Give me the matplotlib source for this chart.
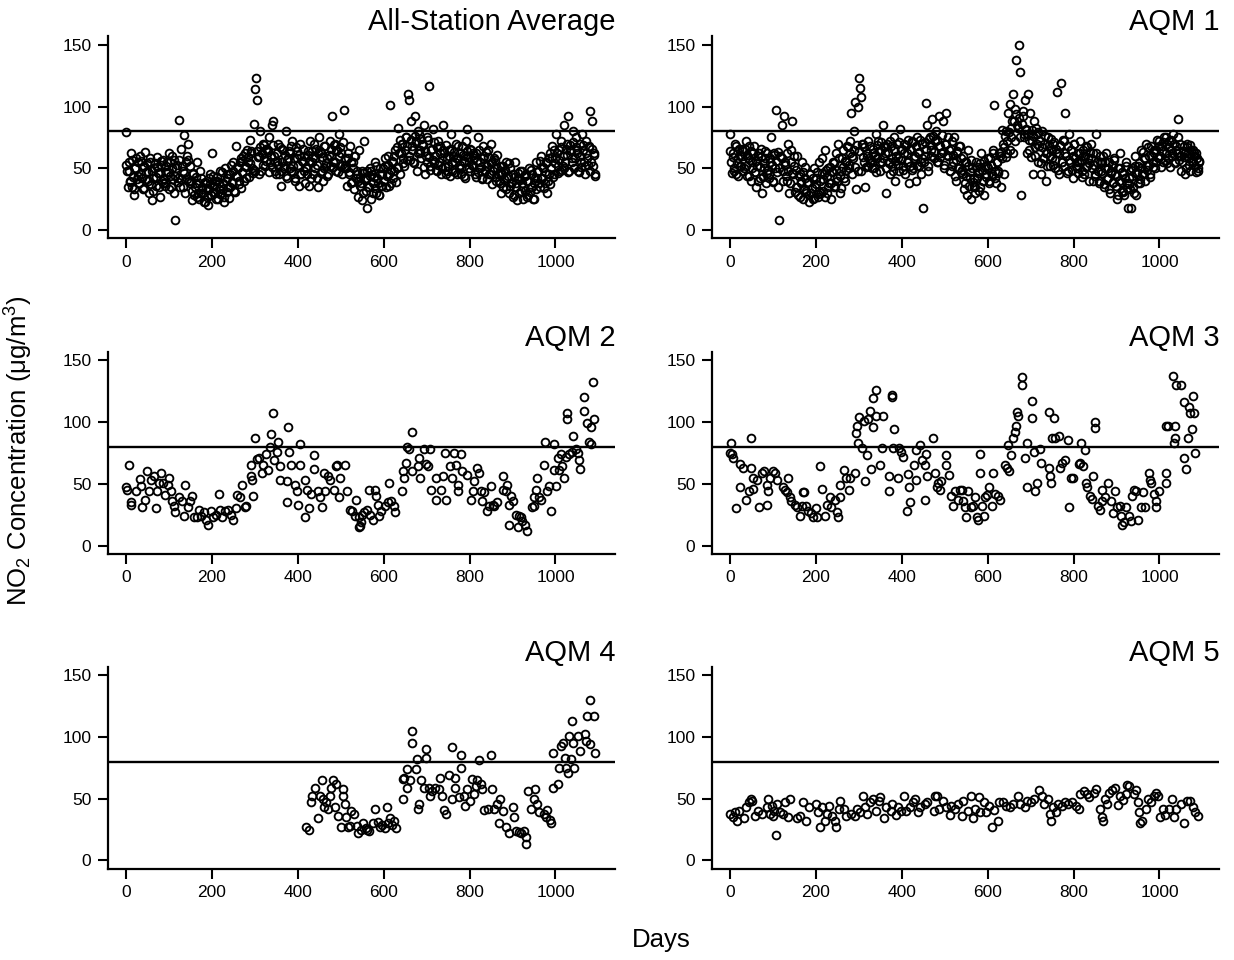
"""Six-panel NO2 daily concentration scatter (all-station average + AQM 1-5)."""

import numpy as np
import matplotlib

matplotlib.use("Agg")
import matplotlib.pyplot as plt

plt.rcParams["font.family"] = ["Liberation Sans", "DejaVu Sans"]
plt.rcParams["mathtext.fontset"] = "custom"
plt.rcParams["mathtext.rm"] = "Liberation Sans"
plt.rcParams["mathtext.it"] = "Liberation Sans:italic"

LIMIT = 80  # threshold line, µg/m3

# ---- all-station average: days 0,3,6,... and days 1,4,7,... -----------------
AVG_DAYS_A = np.arange(0, 1095, 3)
AVG_NO2_A = [
    79, 48, 55, 40, 62, 35, 28, 50, 58, 44,
    38, 60, 45, 33, 52, 63, 41, 47, 30, 55,
    24, 42, 50, 36, 59, 46, 27, 53, 40, 57,
    38, 47, 55, 62, 44, 35, 60, 30, 8, 50,
    42, 89, 35, 66, 48, 77, 30, 60, 70, 40,
    52, 32, 45, 28, 38, 55, 30, 25, 42, 35,
    30, 23, 38, 27, 34, 45, 28, 62, 36, 30,
    25, 40, 33, 48, 30, 38, 27, 50, 42, 35,
    26, 45, 38, 55, 32, 68, 44, 50, 40, 58,
    47, 60, 52, 42, 65, 55, 73, 62, 50, 86,
    114, 123, 105, 60, 80, 48, 70, 58, 52, 66,
    63, 75, 55, 85, 88, 60, 48, 56, 70, 45,
    36, 55, 65, 50, 80, 42, 58, 62, 48, 72,
    52, 40, 67, 58, 36, 70, 45, 55, 60, 38,
    50, 64, 36, 72, 55, 45, 70, 58, 42, 35,
    75, 62, 48, 40, 68, 52, 58, 45, 72, 60,
    92, 55, 70, 48, 65, 78, 52, 62, 45, 97,
    58, 50, 62, 45, 68, 38, 55, 33, 60, 48,
    40, 65, 36, 48, 30, 72, 42, 18, 35, 50,
    25, 45, 38, 55, 30, 42, 28, 50, 36, 45,
    40, 52, 35, 60, 45, 101, 38, 55, 48, 65,
    50, 83, 62, 45, 70, 58, 52, 75, 68, 110,
    105, 88, 65, 55, 92, 72, 48, 80, 62, 58,
    70, 85, 45, 60, 75, 117, 52, 65, 82, 55,
    60, 48, 72, 55, 68, 50, 85, 62, 45, 58,
    52, 65, 78, 48, 60, 55, 70, 45, 58, 62,
    50, 68, 44, 60, 72, 82, 55, 48, 65, 52,
    58, 45, 62, 75, 50, 55, 42, 68, 60, 48,
    52, 65, 45, 70, 55, 48, 58, 40, 50, 45,
    38, 52, 45, 35, 48, 55, 42, 30, 50, 38,
    45, 28, 55, 35, 42, 30, 48, 38, 25, 44,
    32, 40, 28, 50, 35, 45, 25, 38, 55, 42,
    48, 35, 60, 42, 50, 38, 55, 30, 45, 62,
    50, 68, 45, 58, 78, 52, 65, 48, 72, 60,
    85, 55, 70, 92, 48, 65, 58, 80, 50, 75,
    62, 48, 70, 55, 78, 65, 52, 72, 58, 68,
    96, 55, 88, 62, 45,
]
AVG_DAYS_B = np.arange(1, 1095, 3)
AVG_NO2_B = [
    53, 35, 48, 39, 57, 43, 33, 50, 41, 55,
    38, 56, 42, 51, 34, 47, 54, 40, 58, 37,
    48, 32, 54, 43, 51, 35, 46, 56, 38, 41,
    36, 52, 47, 33, 55, 50, 41, 57, 44, 53,
    39, 57, 41, 52, 35, 46, 55, 41, 57, 38,
    40, 24, 46, 35, 43, 27, 38, 48, 30, 33,
    23, 39, 34, 20, 42, 37, 28, 44, 31, 40,
    43, 25, 38, 29, 47, 33, 23, 40, 31, 45,
    35, 53, 39, 48, 31, 44, 51, 37, 55, 34,
    56, 40, 62, 51, 59, 43, 54, 64, 46, 49,
    48, 64, 59, 45, 67, 62, 53, 69, 56, 65,
    65, 47, 60, 51, 69, 55, 45, 62, 53, 67,
    48, 66, 52, 61, 44, 57, 64, 50, 68, 47,
    58, 42, 64, 53, 61, 45, 56, 66, 48, 51,
    45, 61, 56, 42, 64, 59, 50, 66, 53, 62,
    64, 46, 59, 50, 68, 54, 44, 61, 52, 66,
    51, 69, 55, 64, 47, 60, 67, 53, 71, 50,
    52, 36, 58, 47, 55, 39, 50, 60, 42, 45,
    27, 43, 38, 24, 46, 41, 32, 48, 35, 44,
    48, 30, 43, 34, 52, 38, 28, 45, 36, 50,
    40, 58, 44, 53, 36, 49, 56, 42, 60, 39,
    67, 51, 73, 62, 70, 54, 65, 75, 57, 60,
    57, 73, 68, 54, 76, 71, 62, 78, 65, 74,
    69, 51, 64, 55, 73, 59, 49, 66, 57, 71,
    49, 67, 53, 62, 45, 58, 65, 51, 69, 48,
    60, 44, 66, 55, 63, 47, 58, 68, 50, 53,
    45, 61, 56, 42, 64, 59, 50, 66, 53, 62,
    61, 43, 56, 47, 65, 51, 41, 58, 49, 63,
    41, 59, 45, 54, 37, 50, 57, 43, 61, 40,
    46, 30, 52, 41, 49, 33, 44, 54, 36, 39,
    27, 43, 38, 24, 46, 41, 32, 48, 35, 44,
    45, 27, 40, 31, 49, 35, 25, 42, 33, 47,
    38, 56, 42, 51, 34, 47, 54, 40, 58, 37,
    59, 43, 65, 54, 62, 46, 57, 67, 49, 52,
    50, 66, 61, 47, 69, 64, 55, 71, 58, 67,
    65, 47, 60, 51, 69, 55, 45, 62, 53, 67,
    48, 66, 52, 61, 44,
]

# ---- AQM 1: days 0,3,6,... and days 1,4,7,... --------------------------------
AQM1_DAYS_A = np.arange(0, 1095, 3)
AQM1_NO2_A = [
    78, 55, 62, 48, 70, 45, 58, 66, 52, 60,
    64, 50, 72, 44, 58, 68, 40, 55, 62, 47,
    35, 52, 60, 42, 66, 30, 50, 58, 38, 62,
    45, 55, 75, 40, 62, 50, 97, 35, 8, 60,
    85, 48, 92, 55, 40, 70, 30, 65, 88, 45,
    52, 35, 60, 28, 45, 38, 55, 25, 42, 32,
    38, 28, 45, 30, 25, 50, 35, 42, 27, 55,
    40, 58, 32, 45, 65, 30, 50, 38, 25, 48,
    55, 35, 62, 42, 70, 30, 48, 58, 65, 40,
    55, 68, 50, 72, 95, 60, 80, 104, 33, 100,
    123, 115, 108, 70, 55, 35, 60, 52, 58, 68,
    55, 62, 50, 78, 58, 72, 48, 65, 55, 85,
    62, 30, 70, 55, 45, 68, 52, 75, 40, 60,
    58, 48, 82, 65, 52, 70, 45, 62, 55, 38,
    66, 72, 50, 58, 40, 75, 62, 52, 45, 70,
    18, 60, 103, 85, 48, 75, 65, 90, 58, 72,
    80, 55, 92, 68, 62, 88, 50, 70, 95, 60,
    65, 48, 72, 55, 75, 40, 62, 50, 68, 58,
    45, 60, 38, 55, 28, 65, 42, 25, 50, 35,
    30, 55, 42, 48, 35, 62, 40, 28, 52, 45,
    50, 38, 58, 45, 65, 101, 42, 55, 48, 62,
    35, 58, 70, 45, 80, 62, 95, 102, 75, 88,
    110, 98, 138, 85, 150, 128, 28, 92, 75, 105,
    82, 110, 65, 95, 72, 45, 88, 60, 78, 55,
    68, 45, 80, 58, 70, 40, 62, 75, 52, 65,
    58, 70, 50, 62, 112, 45, 68, 119, 55, 72,
    95, 60, 48, 78, 55, 65, 42, 70, 58, 50,
    62, 55, 72, 48, 60, 45, 68, 52, 58, 40,
    70, 50, 62, 45, 78, 55, 40, 60, 48, 55,
    35, 50, 62, 42, 55, 30, 48, 38, 58, 45,
    25, 50, 40, 62, 32, 45, 28, 55, 38, 18,
    42, 18, 50, 35, 60, 28, 45, 52, 38, 65,
    45, 58, 40, 70, 52, 60, 45, 68, 55, 62,
    50, 65, 58, 72, 60, 68, 55, 75, 62, 70,
    58, 72, 65, 60, 78, 55, 68, 62, 90, 70,
    60, 55, 68, 62, 50, 70, 58, 48, 65, 55,
    60, 52, 62, 48, 55,
]
AQM1_DAYS_B = np.arange(1, 1095, 3)
AQM1_NO2_B = [
    64, 46, 59, 50, 68, 54, 44, 61, 52, 66,
    48, 66, 52, 61, 44, 57, 64, 50, 68, 47,
    56, 40, 62, 51, 59, 43, 54, 64, 46, 49,
    42, 58, 53, 39, 61, 56, 47, 63, 50, 59,
    58, 40, 53, 44, 62, 48, 38, 55, 46, 60,
    31, 49, 35, 44, 27, 40, 47, 33, 51, 30,
    39, 23, 45, 34, 42, 26, 37, 47, 29, 32,
    30, 46, 41, 27, 49, 44, 35, 51, 38, 47,
    54, 36, 49, 40, 58, 44, 34, 51, 42, 56,
    49, 67, 53, 62, 45, 58, 65, 51, 69, 48,
    64, 48, 70, 59, 67, 51, 62, 72, 54, 57,
    50, 66, 61, 47, 69, 64, 55, 71, 58, 67,
    68, 50, 63, 54, 72, 58, 48, 65, 56, 70,
    53, 71, 57, 66, 49, 62, 69, 55, 73, 52,
    65, 49, 71, 60, 68, 52, 63, 73, 55, 58,
    55, 71, 66, 52, 74, 69, 60, 76, 63, 72,
    73, 55, 68, 59, 77, 63, 53, 70, 61, 75,
    48, 66, 52, 61, 44, 57, 64, 50, 68, 47,
    49, 33, 55, 44, 52, 36, 47, 57, 39, 42,
    35, 51, 46, 32, 54, 49, 40, 56, 43, 52,
    58, 40, 53, 44, 62, 48, 38, 55, 46, 60,
    63, 81, 67, 76, 59, 72, 79, 65, 83, 62,
    88, 72, 94, 83, 91, 75, 86, 96, 78, 81,
    62, 78, 73, 59, 81, 76, 67, 83, 70, 79,
    72, 54, 67, 58, 76, 62, 52, 69, 60, 74,
    53, 71, 57, 66, 49, 62, 69, 55, 73, 52,
    62, 46, 68, 57, 65, 49, 60, 70, 52, 55,
    46, 62, 57, 43, 65, 60, 51, 67, 54, 63,
    58, 40, 53, 44, 62, 48, 38, 55, 46, 60,
    37, 55, 41, 50, 33, 46, 53, 39, 57, 36,
    44, 28, 50, 39, 47, 31, 42, 52, 34, 37,
    33, 49, 44, 30, 52, 47, 38, 54, 41, 50,
    63, 45, 58, 49, 67, 53, 43, 60, 51, 65,
    55, 73, 59, 68, 51, 64, 71, 57, 75, 54,
    67, 51, 73, 62, 70, 54, 65, 75, 57, 60,
    48, 64, 59, 45, 67, 62, 53, 69, 56, 65,
    62, 47, 58, 50, 56,
]

# ---- AQM 2 -------------------------------------------------------------------
AQM2_DAYS = [
    1, 3, 7, 12, 12, 23, 33, 34, 38, 44, 50, 54, 58, 66, 69, 72, 77, 81, 85, 91,
    97, 101, 105, 108, 111, 113, 124, 130, 134, 138, 144, 150, 153, 159, 166, 171,
    175, 181, 187, 192, 197, 202, 210, 216, 218, 223, 230, 237, 244, 249, 255, 259,
    265, 269, 278, 280, 291, 292, 294, 296, 300, 304, 309, 316, 319, 325, 331, 335,
    337, 343, 345, 351, 353, 358, 358, 374, 374, 378, 380, 385, 394, 398, 400, 406,
    406, 416, 417, 421, 427, 431, 437, 437, 448, 452, 456, 460, 464, 471, 474, 484,
    488, 492, 495, 499, 509, 515, 521, 527, 533, 536, 542, 543, 546, 547, 550, 555,
    562, 565, 569, 574, 580, 582, 586, 590, 594, 602, 609, 612, 617, 623, 626, 643,
    644, 648, 652, 655, 660, 667, 667, 679, 683, 685, 695, 699, 703, 707, 710, 722,
    722, 733, 738, 742, 746, 754, 758, 763, 768, 772, 772, 781, 783, 795, 803, 807,
    810, 817, 822, 826, 830, 834, 840, 846, 850, 854, 857, 865, 877, 879, 885, 888,
    892, 892, 896, 902, 908, 912, 915, 919, 923, 929, 933, 946, 950, 950, 954, 958,
    962, 966, 974, 976, 980, 986, 990, 996, 996, 1001, 1005, 1009, 1012, 1016, 1020,
    1024, 1026, 1026, 1031, 1039, 1041, 1047, 1052, 1054, 1058, 1066, 1066, 1074,
    1078, 1082, 1083, 1088, 1090,
]
AQM2_NO2 = [
    47, 45, 65, 35, 33, 44, 54, 48, 31, 37, 60, 44, 53, 56, 30, 44, 51, 59, 51, 41,
    49, 55, 44, 36, 32, 27, 39, 36, 24, 49, 31, 36, 40, 23, 23, 29,
    24, 27, 21, 17, 28, 23, 25, 42, 29, 23, 28, 29, 25, 21, 30, 41,
    39, 49, 31, 32, 56, 65, 53, 40, 87, 70, 71, 59, 65, 74, 61, 80,
    90, 107, 69, 76, 84, 64, 53, 52, 35, 96, 76, 65, 49, 44, 33, 82,
    65, 23, 53, 45, 30, 42, 73, 62, 44, 39, 31, 59, 44, 56, 53, 45,
    64, 65, 39, 55, 65, 44, 29, 28, 24, 37, 23, 15, 16, 19, 25, 27,
    29, 45, 25, 21, 45, 40, 33, 24, 28, 32, 35, 51, 36, 32, 27, 44,
    60, 55, 67, 80, 78, 60, 92, 64, 71, 55, 78, 66, 64, 78, 45, 37,
    55, 45, 56, 75, 37, 64, 55, 75, 65, 44, 49, 74, 60, 57, 37, 44,
    52, 63, 59, 44, 36, 43, 28, 32, 48, 33, 32, 35, 56, 45, 44, 49,
    33, 17, 40, 36, 25, 15, 24, 23, 20, 17, 12, 31, 32, 39, 45, 55,
    39, 37, 65, 84, 44, 48, 28, 82, 61, 48, 71, 61, 74, 64, 55,
    72, 107, 102, 74, 76, 89, 78, 75, 69, 62, 109, 120, 99,
    84, 96, 82, 132, 102,
]

# ---- AQM 3 -------------------------------------------------------------------
AQM3_DAYS = [
    0, 2, 4, 8, 14, 22, 22, 31, 37, 43, 48, 48, 54, 54, 62, 68, 74, 79, 85, 85,
    89, 93, 101, 105, 110, 124, 128, 132, 136, 140, 143, 151, 155, 163, 167, 169,
    173, 178, 182, 188, 192, 200, 203, 209, 215, 221, 225, 233, 236, 244, 248, 252,
    256, 256, 265, 270, 277, 280, 291, 293, 296, 298, 301, 308, 311, 314, 318, 322,
    325, 329, 333, 333, 339, 341, 349, 353, 357, 370, 370, 376, 376, 380, 381, 392,
    394, 399, 403, 411, 415, 417, 420, 428, 434, 434, 442, 448, 453, 453, 457, 459,
    473, 477, 481, 484, 488, 492, 502, 504, 510, 515, 519, 523, 531, 536, 539, 542,
    547, 550, 554, 561, 565, 570, 574, 578, 582, 582, 586, 592, 593, 598, 603, 609,
    613, 616, 623, 629, 640, 644, 647, 650, 654, 660, 664, 665, 668, 671, 680, 680,
    687, 691, 691, 702, 702, 708, 711, 714, 722, 724, 743, 743, 745, 747, 749, 755,
    757, 765, 768, 774, 780, 786, 790, 795, 799, 812, 815, 817, 821, 827, 830, 832,
    838, 842, 846, 849, 849, 856, 861, 867, 867, 873, 881, 888, 892, 896, 902, 908,
    911, 913, 918, 923, 928, 933, 935, 941, 946, 950, 957, 962, 966, 975, 978, 981,
    988, 993, 993, 998, 1014, 1014, 1014, 1020, 1032, 1033, 1036, 1037, 1039, 1049,
    1056, 1057, 1061, 1066, 1068, 1071, 1076, 1077, 1081, 1082,
]
AQM3_NO2 = [
    75, 83, 74, 71, 30, 66, 47, 63, 37, 44, 87, 63, 46, 55, 53, 31, 59, 60, 33, 49,
    44, 55, 60, 59, 53, 47, 45, 43, 55, 39, 36, 33, 31, 24, 32, 43,
    43, 32, 28, 26, 23, 30, 23, 64, 46, 24, 33, 39, 31, 37, 27, 23,
    39, 49, 61, 55, 45, 55, 59, 91, 97, 83, 104, 79, 101, 52, 73, 102,
    109, 62, 96, 119, 126, 105, 65, 79, 105, 44, 56, 120, 122, 79, 94, 55,
    79, 76, 72, 28, 58, 47, 35, 65, 53, 77, 81, 69, 65, 37, 74, 56,
    87, 59, 47, 51, 45, 52, 73, 65, 57, 40, 32, 44, 37, 45, 45, 36,
    31, 23, 44, 31, 32, 39, 23, 21, 74, 59, 32, 24, 39, 41, 47, 32,
    59, 42, 40, 37, 65, 63, 81, 60, 73, 87, 92, 97, 108, 105, 136, 130,
    71, 83, 47, 117, 103, 76, 44, 51, 78, 67, 63, 108, 56, 51, 87, 103,
    87, 89, 63, 67, 69, 85, 31, 55, 55, 66, 67, 83, 64, 77, 51, 47,
    40, 38, 56, 100, 95, 32, 29, 36, 45, 39, 51, 36, 26, 44, 31, 32,
    24, 17, 19, 31, 24, 20, 40, 45, 44, 21, 31, 43, 31, 59, 53, 51,
    42, 36, 31, 44, 59, 51, 97, 97, 137, 83, 87, 97, 130, 130,
    116, 71, 62, 87, 112, 107, 94, 121, 107, 75,
]

# ---- AQM 4 (starts around day 420) -------------------------------------------
AQM4_DAYS = [
    420, 425, 430, 433, 441, 447, 451, 456, 459, 462, 466, 470, 474, 477, 482, 486,
    490, 494, 501, 505, 505, 509, 513, 517, 521, 525, 531, 537, 541, 547, 552, 558,
    562, 566, 576, 580, 587, 591, 595, 602, 607, 609, 615, 620, 625, 628, 644, 646,
    648, 654, 654, 662, 667, 667, 675, 677, 681, 683, 687, 693, 699, 699, 705, 709,
    712, 720, 728, 730, 736, 740, 744, 752, 758, 759, 765, 767, 775, 779, 781, 787,
    790, 794, 802, 806, 810, 814, 818, 822, 826, 830, 834, 842, 849, 852, 857, 865,
    869, 872, 878, 884, 892, 900, 904, 908, 914, 920, 927, 931, 932, 937, 943, 951,
    953, 958, 962, 973, 977, 981, 987, 990, 994, 995, 1005, 1008, 1013, 1017, 1023,
    1025, 1029, 1031, 1037, 1039, 1040, 1044, 1052, 1058, 1068, 1070, 1073, 1080,
    1081, 1089, 1091,
]
AQM4_NO2 = [
    27, 25, 47, 52, 59, 34, 52, 65, 50, 43, 47, 42, 52, 59, 65, 43,
    62, 36, 27, 58, 52, 46, 35, 27, 28, 40, 38, 28, 22, 25, 30, 26,
    25, 24, 30, 42, 31, 27, 29, 26, 43, 30, 34, 29, 32, 26, 66, 50,
    67, 59, 74, 65, 95, 105, 74, 82, 42, 46, 65, 59, 83, 90, 59, 52,
    56, 59, 58, 67, 52, 41, 38, 69, 50, 92, 59, 67, 51, 85, 75, 52,
    44, 58, 48, 66, 54, 60, 65, 81, 62, 58, 41, 42, 85, 58, 42, 46,
    30, 50, 40, 27, 22, 43, 35, 24, 23, 22, 24, 19, 13, 56, 42, 50,
    58, 46, 39, 38, 35, 41, 33, 30, 59, 87, 62, 75, 93, 95, 83,
    75, 71, 101, 82, 113, 95, 75, 101, 89, 102, 97, 117, 130,
    94, 117, 87,
]

# ---- AQM 5 -------------------------------------------------------------------
AQM5_DAYS = [
    0, 6, 12, 16, 20, 32, 36, 44, 48, 52, 59, 64, 75, 85, 89, 93, 97, 101, 102, 107,
    110, 117, 123, 129, 135, 139, 157, 163, 169, 177, 183, 199, 204, 210, 214, 220,
    226, 231, 237, 244, 247, 253, 257, 265, 271, 281, 290, 295, 302, 310, 314, 319,
    326, 334, 340, 346, 350, 358, 364, 374, 378, 386, 392, 398, 405, 410, 418, 427,
    430, 437, 442, 453, 458, 475, 477, 483, 487, 495, 503, 511, 515, 523, 531, 539,
    543, 555, 561, 566, 571, 579, 583, 591, 597, 603, 611, 615, 623, 627, 635, 643,
    651, 659, 670, 676, 686, 692, 700, 708, 720, 726, 732, 740, 744, 748, 752, 760,
    764, 772, 780, 788, 796, 805, 813, 816, 824, 831, 836, 847, 853, 861, 865, 869,
    873, 877, 883, 889, 897, 903, 909, 915, 921, 925, 930, 941, 945, 949, 952, 955,
    960, 969, 973, 981, 987, 992, 997, 1001, 1008, 1013, 1021, 1029, 1033, 1039,
    1049, 1057, 1064, 1070, 1078, 1083, 1090,
]
AQM5_NO2 = [
    38, 35, 39, 32, 40, 34, 43, 47, 50, 48, 36, 40, 38, 43, 50, 38, 44, 36, 40, 21,
    46, 39, 38, 47, 35, 50, 34, 36, 47, 32, 43, 46, 39, 27, 43, 32,
    38, 44, 36, 32, 27, 42, 48, 42, 36, 38, 36, 42, 39, 52, 43, 38,
    47, 50, 40, 48, 51, 34, 43, 40, 46, 37, 43, 40, 52, 40, 43, 47,
    50, 39, 43, 46, 47, 40, 52, 52, 42, 48, 43, 37, 44, 42, 46, 36,
    48, 40, 52, 34, 42, 51, 39, 47, 39, 44, 27, 41, 32, 47, 47, 44,
    43, 46, 52, 46, 43, 48, 47, 50, 57, 52, 46, 50, 38, 32, 43, 39,
    46, 44, 47, 46, 47, 44, 42, 54, 56, 54, 51, 55, 58, 42, 35, 32,
    50, 46, 55, 57, 59, 45, 52, 49, 54, 61, 60, 54, 57, 47, 39, 30,
    32, 42, 50, 47, 52, 55, 52, 35, 42, 37, 42, 50, 35, 42,
    46, 30, 48, 48, 43, 39, 36,
]

PANELS = [
    ("All-Station Average", [(AVG_DAYS_A, AVG_NO2_A), (AVG_DAYS_B, AVG_NO2_B)]),
    ("AQM 1", [(AQM1_DAYS_A, AQM1_NO2_A), (AQM1_DAYS_B, AQM1_NO2_B)]),
    ("AQM 2", [(AQM2_DAYS, AQM2_NO2)]),
    ("AQM 3", [(AQM3_DAYS, AQM3_NO2)]),
    ("AQM 4", [(AQM4_DAYS, AQM4_NO2)]),
    ("AQM 5", [(AQM5_DAYS, AQM5_NO2)]),
]

fig = plt.figure(figsize=(12.34, 9.6), dpi=100)

COL_X = [0.0875, 0.577]
ROW_Y = [0.752, 0.4234, 0.0953]
AX_W, AX_H = 0.411, 0.2104

for i, (title, series) in enumerate(PANELS):
    r, c = divmod(i, 2)
    ax = fig.add_axes([COL_X[c], ROW_Y[r], AX_W, AX_H])
    for days, no2 in series:
        ax.plot(days, no2, "o", ms=5.6, mfc="none", mec="black", mew=1.35,
                ls="none", clip_on=False)
    ax.axhline(LIMIT, color="black", lw=1.7)
    ax.set_xlim(-42, 1139)
    ax.set_ylim(-6.5, 157)
    ax.set_xticks(range(0, 1001, 200))
    ax.set_yticks([0, 50, 100, 150])
    for side in ("top", "right"):
        ax.spines[side].set_visible(False)
    for side in ("left", "bottom"):
        ax.spines[side].set_linewidth(1.6)
    ax.tick_params(direction="out", length=7, width=1.5, labelsize=12.5, pad=5)
    ax.text(1.0, 1.0, title, transform=ax.transAxes, ha="right", va="bottom",
            fontsize=21)

fig.text(0.015, 0.531, r"NO$_2$ Concentration (μg/m$^3$)", rotation=90,
         ha="center", va="center", fontsize=18.5)
fig.text(0.536, 0.021, "Days", ha="center", va="center", fontsize=18.5)

fig.savefig("out.png", dpi=100)
